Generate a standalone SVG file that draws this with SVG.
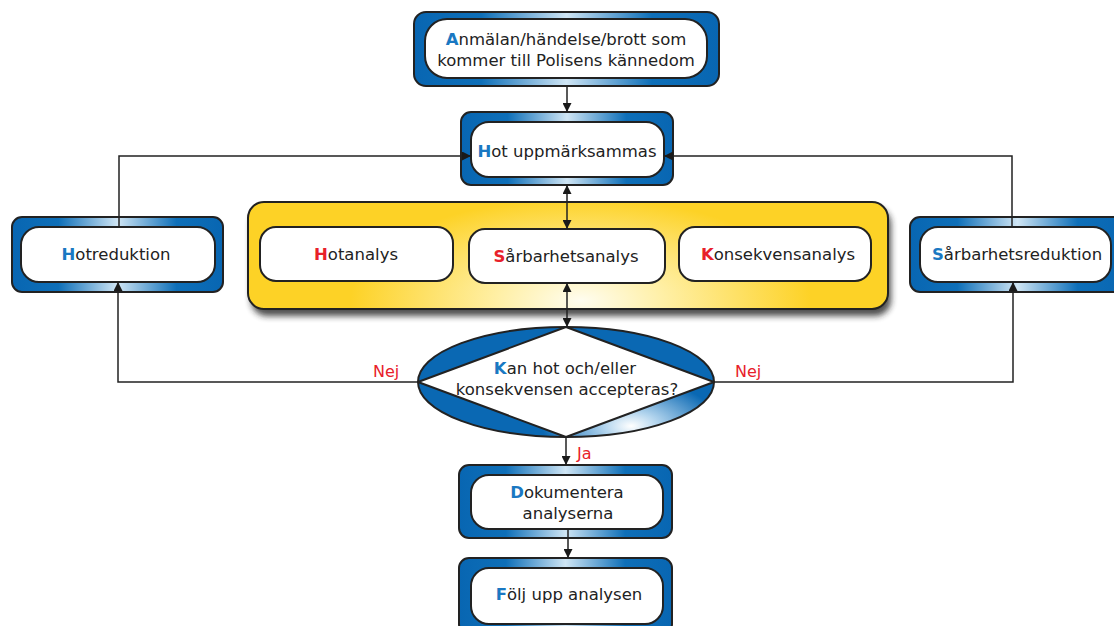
<svg xmlns="http://www.w3.org/2000/svg" width="1114" height="626" viewBox="0 0 1114 626">
<defs>
<linearGradient id="bg" x1="0" y1="0" x2="1" y2="0">
<stop offset="0" stop-color="#0866b2"/>
<stop offset="0.22" stop-color="#0e6fb8"/>
<stop offset="0.5" stop-color="#cfe5f4"/>
<stop offset="0.78" stop-color="#0e6fb8"/>
<stop offset="1" stop-color="#0866b2"/>
</linearGradient>
<radialGradient id="eg" cx="0.72" cy="0.9" r="0.3" gradientTransform="translate(0.72 0.9) scale(1 1.4) translate(-0.72 -0.9)">
<stop offset="0" stop-color="#ffffff"/>
<stop offset="0.3" stop-color="#b3d5ee"/>
<stop offset="1" stop-color="#0a68b3"/>
</radialGradient>
<radialGradient id="yg" cx="0.52" cy="0.92" r="0.6" gradientTransform="translate(0.52 0.92) scale(0.6 1.6) translate(-0.52 -0.92)">
<stop offset="0" stop-color="#fffdf0"/>
<stop offset="0.35" stop-color="#fff0a8"/>
<stop offset="1" stop-color="#fdd226"/>
</radialGradient>
<filter id="sh" x="-10%" y="-20%" width="120%" height="150%">
<feGaussianBlur stdDeviation="3"/>
</filter>
<marker id="ah" viewBox="0 0 10 10" refX="10" refY="5" markerWidth="9" markerHeight="9" markerUnits="userSpaceOnUse" orient="auto-start-reverse">
<path d="M0,0 L10,5 L0,10 z" fill="#1a1a1a"/>
</marker>
<style>
.outer{fill:url(#bg);stroke:#222;stroke-width:2}
.inner{fill:#fff;stroke:#222;stroke-width:2}
.t{font-family:"DejaVu Sans",sans-serif;font-size:16.5px;fill:#222;text-anchor:middle}
.b{fill:#1a78c2;font-weight:bold}
.r{fill:#e8202a;font-weight:bold}
.lbl{font-family:"DejaVu Sans",sans-serif;font-size:16px;fill:#e8202a}
.c{fill:none;stroke:#222;stroke-width:1.5}
</style>
</defs>

<g id="n-anmalan">
<rect class="outer" x="414" y="12" width="305" height="74" rx="12"/>
<rect class="inner" x="425" y="19" width="282" height="59" rx="22"/>
<text class="t" x="566" y="45"><tspan class="b">A</tspan>nmälan/händelse/brott som</text>
<text class="t" x="566" y="66">kommer till Polisens kännedom</text>
</g>

<g id="n-hot">
<rect class="outer" x="461" y="112" width="212" height="73" rx="10"/>
<rect class="inner" x="471" y="122" width="193" height="55" rx="18"/>
<text class="t" x="567" y="157"><tspan class="b">H</tspan>ot uppmärksammas</text>
</g>

<g id="n-hotreduktion">
<rect class="outer" x="12" y="217" width="211" height="75" rx="10"/>
<rect class="inner" x="21" y="227" width="194" height="55" rx="18"/>
<text class="t" x="116" y="260"><tspan class="b">H</tspan>otreduktion</text>
</g>

<g id="n-sarbarhetsreduktion">
<rect class="outer" x="910" y="217" width="215" height="75" rx="10"/>
<rect class="inner" x="920" y="227" width="191" height="55" rx="18"/>
<text class="t" x="1017" y="260"><tspan class="b">S</tspan>årbarhetsreduktion</text>
</g>

<g id="n-analys">
<rect x="251" y="208" width="640" height="108" rx="16" fill="#222" opacity="0.8" filter="url(#sh)"/>
<rect x="248" y="202" width="640" height="107" rx="16" fill="url(#yg)" stroke="#222" stroke-width="2"/>
<g id="n-hotanalys">
<rect class="inner" x="260" y="227" width="193" height="54" rx="16"/>
<text class="t" x="356" y="260"><tspan class="r">H</tspan>otanalys</text>
</g>
<g id="n-sarbarhetsanalys">
<rect class="inner" x="469" y="229" width="196" height="54" rx="16"/>
<text class="t" x="566" y="262"><tspan class="r">S</tspan>årbarhetsanalys</text>
</g>
<g id="n-konsekvensanalys">
<rect class="inner" x="679" y="227" width="192" height="54" rx="16"/>
<text class="t" x="778" y="260"><tspan class="r">K</tspan>onsekvensanalys</text>
</g>
</g>

<g id="n-beslut">
<ellipse cx="566" cy="382" rx="148" ry="55" fill="url(#eg)" stroke="#222" stroke-width="2"/>
<polygon points="566,327 714,382 566,437 418,382" fill="#fff" stroke="#222" stroke-width="2" stroke-linejoin="round"/>
<text class="t" x="565" y="374"><tspan class="b">K</tspan>an hot och/eller</text>
<text class="t" x="567" y="395">konsekvensen accepteras?</text>
</g>

<g id="n-dokumentera">
<rect class="outer" x="459" y="465" width="213" height="73" rx="10"/>
<rect class="inner" x="471" y="475" width="192" height="54" rx="18"/>
<text class="t" x="567" y="498"><tspan class="b">D</tspan>okumentera</text>
<text class="t" x="568" y="519">analyserna</text>
</g>

<g id="n-folj">
<rect class="outer" x="459" y="558" width="213" height="76" rx="10"/>
<rect class="inner" x="471" y="568" width="192" height="56" rx="18"/>
<text class="t" x="569" y="600"><tspan class="b">F</tspan>ölj upp analysen</text>
</g>

<g id="connectors">
<path class="c" d="M567,86 V112" marker-end="url(#ah)"/>
<path class="c" d="M119,227 V156 H471" marker-end="url(#ah)"/>
<path class="c" d="M1012,227 V156 H664" marker-end="url(#ah)"/>
<path class="c" d="M567,185 V229" marker-start="url(#ah)" marker-end="url(#ah)"/>
<path class="c" d="M567,283 V327" marker-start="url(#ah)" marker-end="url(#ah)"/>
<path class="c" d="M418,382 H118 V282" marker-end="url(#ah)"/>
<path class="c" d="M714,382 H1013 V282" marker-end="url(#ah)"/>
<path class="c" d="M566,437 V465" marker-end="url(#ah)"/>
<path class="c" d="M568,529 V558" marker-end="url(#ah)"/>
<text class="lbl" x="373" y="377">Nej</text>
<text class="lbl" x="735" y="377">Nej</text>
<text class="lbl" x="577" y="459">Ja</text>
</g>
</svg>
